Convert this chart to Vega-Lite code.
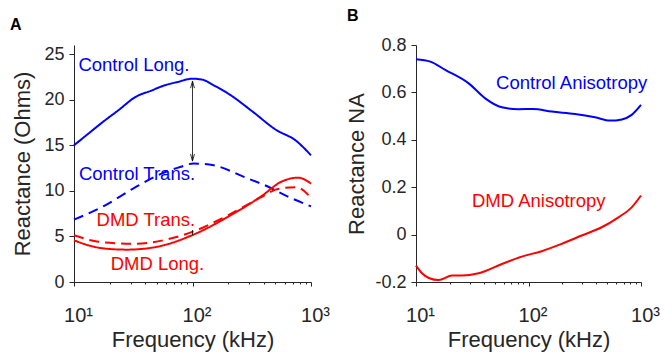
{
  "$schema": "https://vega.github.io/schema/vega-lite/v6.json",
  "background": "white",
  "padding": {"left": 10, "top": 8, "right": 5, "bottom": 2},
  "config": {
    "font": "Liberation Sans",
    "view": {"stroke": null},
    "axis": {
      "domainColor": "#262626", "tickColor": "#262626", "labelColor": "#262626", "titleColor": "#262626",
      "labelFontSize": 18, "titleFontSize": 22, "titleFontWeight": "normal", "grid": false,
      "tickSize": 5, "labelPadding": 5, "domainWidth": 1, "tickWidth": 1, "labelFont": "Liberation Sans", "titleFont": "Liberation Sans"
    },
    "title": {"fontSize": 16, "fontWeight": "bold", "anchor": "start", "frame": "group", "color": "#000000", "font": "Liberation Sans"}
  },
  "resolve": {"scale": {"color": "independent", "strokeDash": "independent"}},
  "spacing": 15,
  "datasets": {
    "curvesA": [
      {"series": "CL", "freq": 10, "val": 15.0}, {"series": "CL", "freq": 13, "val": 16.2}, {"series": "CL", "freq": 17.3, "val": 17.5},
      {"series": "CL", "freq": 24, "val": 18.9}, {"series": "CL", "freq": 33, "val": 20.3}, {"series": "CL", "freq": 45, "val": 21.0},
      {"series": "CL", "freq": 56, "val": 21.5}, {"series": "CL", "freq": 75, "val": 21.95}, {"series": "CL", "freq": 100, "val": 22.3},
      {"series": "CL", "freq": 121, "val": 22.2}, {"series": "CL", "freq": 150, "val": 21.6}, {"series": "CL", "freq": 204, "val": 20.6},
      {"series": "CL", "freq": 321, "val": 18.7}, {"series": "CL", "freq": 506, "val": 16.7}, {"series": "CL", "freq": 747, "val": 15.5},
      {"series": "CL", "freq": 1000, "val": 13.9},
      {"series": "CT", "freq": 10, "val": 6.84}, {"series": "CT", "freq": 18, "val": 8.36}, {"series": "CT", "freq": 32, "val": 10.3},
      {"series": "CT", "freq": 57.5, "val": 12.0}, {"series": "CT", "freq": 80, "val": 12.65}, {"series": "CT", "freq": 102, "val": 13.0},
      {"series": "CT", "freq": 151, "val": 12.8}, {"series": "CT", "freq": 275, "val": 11.5}, {"series": "CT", "freq": 427, "val": 10.5},
      {"series": "CT", "freq": 632, "val": 9.4}, {"series": "CT", "freq": 1000, "val": 8.3},
      {"series": "DL", "freq": 10, "val": 4.57}, {"series": "DL", "freq": 14.8, "val": 3.86}, {"series": "DL", "freq": 20, "val": 3.62},
      {"series": "DL", "freq": 28, "val": 3.55}, {"series": "DL", "freq": 50, "val": 3.86}, {"series": "DL", "freq": 102, "val": 5.2},
      {"series": "DL", "freq": 198, "val": 7.13}, {"series": "DL", "freq": 380, "val": 9.4}, {"series": "DL", "freq": 562, "val": 11.0},
      {"series": "DL", "freq": 776, "val": 11.45}, {"series": "DL", "freq": 1000, "val": 10.8},
      {"series": "DT", "freq": 10, "val": 5.13}, {"series": "DT", "freq": 14.8, "val": 4.5}, {"series": "DT", "freq": 20, "val": 4.3},
      {"series": "DT", "freq": 32, "val": 4.2}, {"series": "DT", "freq": 61, "val": 4.67}, {"series": "DT", "freq": 102, "val": 5.55},
      {"series": "DT", "freq": 198, "val": 7.3}, {"series": "DT", "freq": 380, "val": 9.3}, {"series": "DT", "freq": 525, "val": 10.2},
      {"series": "DT", "freq": 747, "val": 10.4}, {"series": "DT", "freq": 1000, "val": 9.25}
    ],
    "labelsA": [
      {"series": "CL", "label": "Control Long.", "freq": 10.9, "val": 23.15},
      {"series": "CT", "label": "Control Trans.", "freq": 11.0, "val": 11.23},
      {"series": "DT", "label": "DMD Trans.", "freq": 15.5, "val": 6.18},
      {"series": "DL", "label": "DMD Long.", "freq": 20.4, "val": 1.34}
    ],
    "arrowA": [
      {"freq": 100, "lo": 13.3, "hi": 22.0},
      {"freq": 100, "lo": 5.15, "hi": 5.7}
    ],
    "headsA": [
      {"freq": 100, "val": 21.65, "dir": "up"},
      {"freq": 100, "val": 13.65, "dir": "down"}
    ],
    "curvesB": [
      {"series": "C", "freq": 10, "val": 0.74}, {"series": "C", "freq": 13.4, "val": 0.73}, {"series": "C", "freq": 18.2, "val": 0.695},
      {"series": "C", "freq": 29.4, "val": 0.638}, {"series": "C", "freq": 41.2, "val": 0.575}, {"series": "C", "freq": 57.9, "val": 0.537},
      {"series": "C", "freq": 81, "val": 0.529}, {"series": "C", "freq": 110, "val": 0.53}, {"series": "C", "freq": 161, "val": 0.519},
      {"series": "C", "freq": 259, "val": 0.509}, {"series": "C", "freq": 390, "val": 0.495}, {"series": "C", "freq": 530, "val": 0.481},
      {"series": "C", "freq": 676, "val": 0.486}, {"series": "C", "freq": 826, "val": 0.505}, {"series": "C", "freq": 1000, "val": 0.547},
      {"series": "D", "freq": 10, "val": -0.131}, {"series": "D", "freq": 11.3, "val": -0.163}, {"series": "D", "freq": 13, "val": -0.183},
      {"series": "D", "freq": 15.9, "val": -0.192}, {"series": "D", "freq": 20.9, "val": -0.173}, {"series": "D", "freq": 25.6, "val": -0.173},
      {"series": "D", "freq": 36, "val": -0.163}, {"series": "D", "freq": 58, "val": -0.124}, {"series": "D", "freq": 87, "val": -0.093},
      {"series": "D", "freq": 131, "val": -0.07}, {"series": "D", "freq": 197, "val": -0.039}, {"series": "D", "freq": 297, "val": -0.004},
      {"series": "D", "freq": 447, "val": 0.031}, {"series": "D", "freq": 630, "val": 0.073}, {"series": "D", "freq": 826, "val": 0.115},
      {"series": "D", "freq": 1000, "val": 0.165}
    ],
    "labelsB": [
      {"series": "C", "label": "Control Anisotropy", "freq": 51.5, "val": 0.614},
      {"series": "D", "label": "DMD Anisotropy", "freq": 31.4, "val": 0.115}
    ]
  },
  "hconcat": [
    {
      "title": {"text": "A", "dx": -64, "offset": 12},
      "width": 237,
      "height": 237,
      "layer": [
        {
          "data": {"name": "curvesA"},
          "mark": {"type": "line", "strokeWidth": 2, "interpolate": "monotone"},
          "encoding": {
            "x": {
              "field": "freq", "type": "quantitative",
              "scale": {"type": "log", "domain": [10, 1000]},
              "axis": {
                "title": "Frequency (kHz)",
                "values": [10, 20, 30, 40, 50, 60, 70, 80, 90, 100, 200, 300, 400, 500, 600, 700, 800, 900, 1000],
                "labelExpr": "datum.value == 10 ? '10¹' : datum.value == 100 ? '10²' : datum.value == 1000 ? '10³' : ''",
                "labelOverlap": false, "labelFlush": false, "labelOffset": 4, "labelFontSize": 20,
                "labelPadding": 19, "titlePadding": 4,
                "tickSize": {"condition": {"test": "indexof([10,100,1000], datum.value) >= 0", "value": 4}, "value": 2}
              }
            },
            "y": {
              "field": "val", "type": "quantitative",
              "scale": {"domain": [0, 25]},
              "axis": {"title": "Reactance (Ohms)", "values": [0, 5, 10, 15, 20, 25], "titlePadding": 9}
            },
            "color": {"field": "series", "type": "nominal", "scale": {"domain": ["CL", "CT", "DL", "DT"], "range": ["#0000ff", "#0000ff", "#ff0000", "#ff0000"]}, "legend": null},
            "strokeDash": {"field": "series", "type": "nominal", "scale": {"domain": ["CL", "CT", "DL", "DT"], "range": [[1, 0], [10, 6], [1, 0], [10, 6]]}, "legend": null}
          }
        },
        {
          "data": {"name": "labelsA"},
          "mark": {"type": "text", "align": "left", "baseline": "alphabetic", "fontSize": 18.5},
          "encoding": {
            "x": {"field": "freq", "type": "quantitative"},
            "y": {"field": "val", "type": "quantitative"},
            "text": {"field": "label"},
            "color": {"field": "series", "type": "nominal", "legend": null}
          }
        },
        {
          "data": {"name": "arrowA"},
          "mark": {"type": "rule", "color": "#000000", "strokeWidth": 0.8},
          "encoding": {
            "x": {"field": "freq", "type": "quantitative"},
            "y": {"field": "lo", "type": "quantitative"},
            "y2": {"field": "hi"}
          }
        },
        {
          "data": {"name": "headsA"},
          "mark": {"type": "point", "filled": false, "color": "#000000", "strokeWidth": 0.8, "opacity": 1},
          "encoding": {
            "x": {"field": "freq", "type": "quantitative"},
            "y": {"field": "val", "type": "quantitative"},
            "shape": {"field": "dir", "type": "nominal", "scale": {"domain": ["up", "down"], "range": ["M-0.55,1L0,-1L0.55,1", "M-0.55,-1L0,1L0.55,-1"]}, "legend": null},
            "size": {"value": 50}
          }
        }
      ]
    },
    {
      "title": {"text": "B", "dx": -69, "offset": 12},
      "width": 225,
      "height": 237,
      "layer": [
        {
          "data": {"name": "curvesB"},
          "mark": {"type": "line", "strokeWidth": 2, "interpolate": "monotone"},
          "encoding": {
            "x": {
              "field": "freq", "type": "quantitative",
              "scale": {"type": "log", "domain": [10, 1000]},
              "axis": {
                "title": "Frequency (kHz)",
                "values": [10, 20, 30, 40, 50, 60, 70, 80, 90, 100, 200, 300, 400, 500, 600, 700, 800, 900, 1000],
                "labelExpr": "datum.value == 10 ? '10¹' : datum.value == 100 ? '10²' : datum.value == 1000 ? '10³' : ''",
                "labelOverlap": false, "labelFlush": false, "labelOffset": 4, "labelFontSize": 20,
                "labelPadding": 19, "titlePadding": 4,
                "tickSize": {"condition": {"test": "indexof([10,100,1000], datum.value) >= 0", "value": 4}, "value": 2}
              }
            },
            "y": {
              "field": "val", "type": "quantitative",
              "scale": {"domain": [-0.2, 0.8]},
              "axis": {
                "title": "Reactance NA", "values": [-0.2, 0, 0.2, 0.4, 0.6, 0.8], "titlePadding": 6,
                "labelExpr": "datum.value == 0 ? '0' : (datum.value < 0 ? '-' : '') + format(abs(datum.value), '.1f')"
              }
            },
            "color": {"field": "series", "type": "nominal", "scale": {"domain": ["C", "D"], "range": ["#0000ff", "#ff0000"]}, "legend": null}
          }
        },
        {
          "data": {"name": "labelsB"},
          "mark": {"type": "text", "align": "left", "baseline": "alphabetic", "fontSize": 18.5},
          "encoding": {
            "x": {"field": "freq", "type": "quantitative"},
            "y": {"field": "val", "type": "quantitative"},
            "text": {"field": "label"},
            "color": {"field": "series", "type": "nominal", "legend": null}
          }
        }
      ]
    }
  ]
}
